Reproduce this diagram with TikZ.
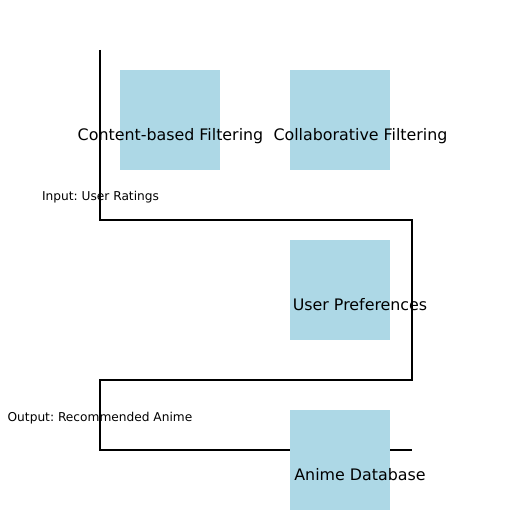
\documentclass[tikz,border=0pt]{standalone}
\usepackage{fontspec}
\setmainfont{DejaVu Sans}
\usepackage{tikz}
\definecolor{lightblue}{RGB}{173,216,230}
\frenchspacing

\tikzset{
	box/.style = {fill = lightblue, minimum width = 50pt, minimum height = 50pt, inner sep = 0pt},
	boxtext/.style = {anchor = base, inner sep = 0pt, font = \fontsize{7.93}{9}\selectfont},
	iotext/.style = {anchor = base, inner sep = 0pt, font = \fontsize{6.1}{7}\selectfont}
}

\begin{document}
\begin{tikzpicture}[x = 0.5pt, y = -0.5pt]
\useasboundingbox (0,0) rectangle (512,512);

\coordinate (p0) at (100,50);
\coordinate (p1) at (100,220);
\coordinate (p2) at (412,220);
\coordinate (p3) at (412,380);
\coordinate (p4) at (100,380);
\coordinate (p5) at (100,450);
\coordinate (p6) at (412,450);

\draw[line width = 1pt] (p0)--(p1)--(p2)--(p3)--(p4)--(p5)--(p6);

\node[box] (content) at (170,120) {};
\node[box] (collab) at (340,120) {};
\node[box] (prefs) at (340,290) {};
\node[box] (anime) at (340,460) {};

\node[boxtext] (contentlabel) at (170.5,140.5) {Content-based Filtering};
\node[boxtext] (collablabel) at (360.5,140.5) {Collaborative Filtering};
\node[boxtext] (prefslabel) at (360,310.5) {User Preferences};
\node[boxtext] (animelabel) at (360,480.5) {Anime Database};

\node[iotext] (input) at (100.5,201) {Input: User Ratings};
\node[iotext] (output) at (100,421) {Output: Recommended Anime};
\end{tikzpicture}
\end{document}
